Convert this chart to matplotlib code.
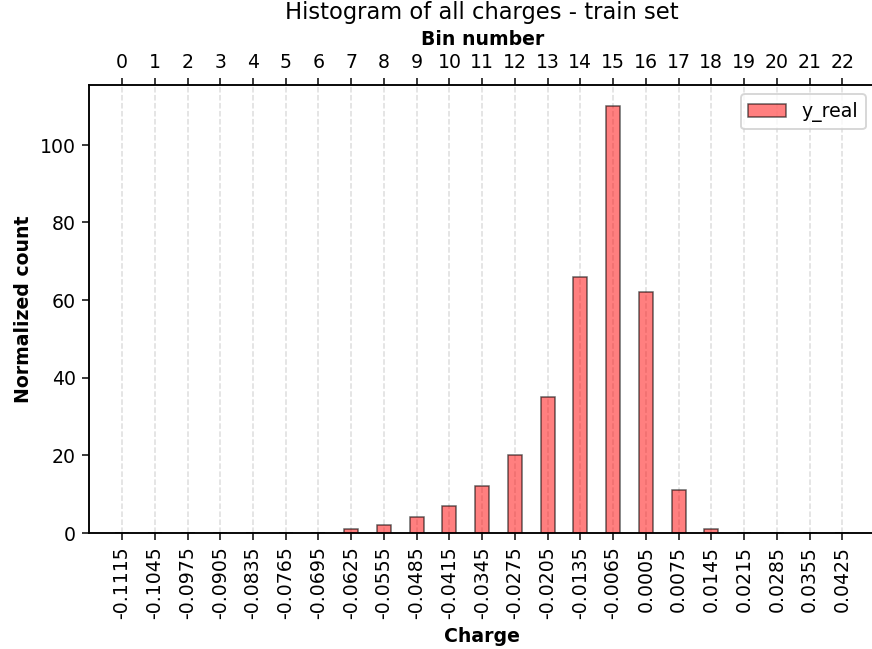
import matplotlib
matplotlib.use("Agg")
import matplotlib.pyplot as plt
import numpy as np

bin_centers = [-0.1115, -0.1045, -0.0975, -0.0905, -0.0835, -0.0765, -0.0695, -0.0625,
               -0.0555, -0.0485, -0.0415, -0.0345, -0.0275, -0.0205, -0.0135, -0.0065,
               0.0005, 0.0075, 0.0145, 0.0215, 0.0285, 0.0355, 0.0425]
tick_labels = ["-0.1115", "-0.1045", "-0.0975", "-0.0905", "-0.0835", "-0.0765", "-0.0695",
               "-0.0625", "-0.0555", "-0.0485", "-0.0415", "-0.0345", "-0.0275", "-0.0205",
               "-0.0135", "-0.0065", "0.0005", "0.0075", "0.0145", "0.0215", "0.0285",
               "0.0355", "0.0425"]
counts = [0, 0, 0, 0, 0, 0, 0, 1, 2, 4, 7, 12, 20, 35, 66, 110, 62, 11, 1, 0, 0, 0, 0]
bin_numbers = list(range(len(bin_centers)))

DPI = 136
fig = plt.figure(figsize=(872.3 / DPI, 649.3 / DPI), dpi=DPI)
ax = fig.add_axes([0.1024, 0.179, 0.9007, 0.690])
ax.bar(bin_centers, counts, width=0.003, color=(1, 0, 0, 0.5),
       edgecolor=(0, 0, 0, 0.6), linewidth=0.8, label="y_real", zorder=3)
ax.set_xlim(-0.1185, 0.0495)
ax.set_ylim(0, 115.5)
ax.set_xticks(bin_centers)
ax.set_xticklabels(tick_labels, rotation=90)
ax.xaxis.grid(True, linestyle="--", color="#dddddd", linewidth=0.8, zorder=0)
ax.set_axisbelow(True)
ax.set_xlabel("Charge", fontweight="bold")
ax.set_ylabel("Normalized count", fontweight="bold")
ax.legend(loc="upper right")

ax2 = ax.twiny()
ax2.set_xlim(ax.get_xlim())
ax2.set_xticks(bin_centers)
ax2.set_xticklabels([str(b) for b in bin_numbers])
ax2.set_xlabel("Bin number", fontweight="bold")
ax2.set_title("Histogram of all charges - train set")

fig.savefig("out.png", dpi=DPI)
